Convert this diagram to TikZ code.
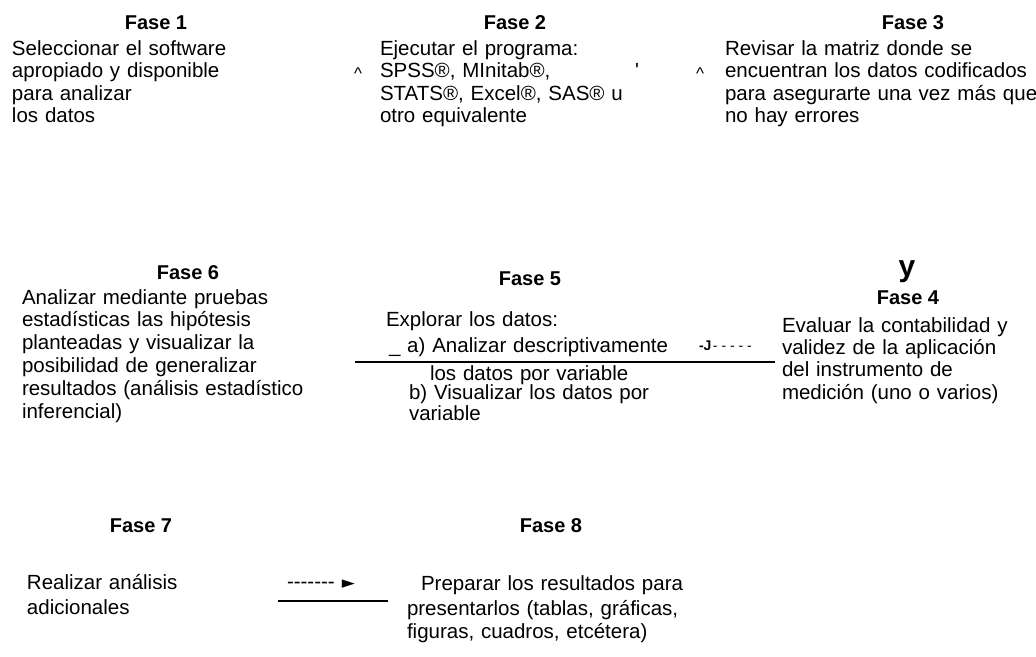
\documentclass[tikz,border=0pt]{standalone}
\usepackage{fontspec}
\setmainfont{Liberation Sans}
\newfontfamily\symfont{DejaVu Sans}
\begin{document}
\begin{tikzpicture}[x=1pt,y=-1pt,
  every node/.style={inner sep=0pt, outer sep=0pt},
  titulo/.style={font=\fontsize{20}{22}\selectfont\bfseries, anchor=base},
  cuerpo/.style={font=\fontsize{20.5}{22.5}\selectfont, anchor=base west, align=left, text width=380pt},
  marca/.style={font=\fontsize{17}{17}\selectfont, anchor=base},
  raya/.style={line width=1.6pt}
]
\useasboundingbox[fill=white] (0,0) rectangle (1036,656);

% ---- top row
\node[titulo] (t1) at (156,29) {Fase 1};
\node[cuerpo] (b1) at (12,55) {Seleccionar el software\\apropiado y disponible\\para analizar\\los datos};

\node[titulo] (t2) at (515,29) {Fase 2};
\node[cuerpo] (b2) at (380,55) {Ejecutar el programa:\\SPSS®, MInitab®,\\STATS®, Excel®, SAS® u\\otro equivalente};
\node[marca] (c2) at (358,79.5) {\textasciicircum};
\node[font=\fontsize{20.5}{22.5}\selectfont, anchor=base] (ap) at (637,77.5) {\textquotesingle};

\node[titulo] (t3) at (913,29) {Fase 3};
\node[cuerpo] (b3) at (725,55) {Revisar la matriz donde se\\encuentran los datos codificados\\para asegurarte una vez más que\\no hay errores};
\node[marca] (c3) at (700,79.5) {\textasciicircum};

% ---- middle row
\node[titulo] (t6) at (188,279) {Fase 6};
\node[cuerpo, font=\fontsize{20.5}{22.8}\selectfont] (b6) at (22,304) {Analizar mediante pruebas\\estadísticas las hipótesis\\planteadas y visualizar la\\posibilidad de generalizar\\resultados (análisis estadístico\\inferencial)};

\node[titulo] (t5) at (530,285) {Fase 5};
\node[cuerpo] (b5a) at (386,326) {Explorar los datos:};
\node[cuerpo] (b5b) at (389,352) {\_ a) Analizar descriptivamente};
\node[anchor=base west, font=\fontsize{14}{14}\selectfont] (d5) at (699,350)
  {{\bfseries -J}\kern1.5pt-\kern3.9pt-\kern3.9pt-\kern3.9pt-\kern3.9pt-};
\coordinate (l5a) at (355,362);
\coordinate (l5b) at (775,362);
\draw[raya] (l5a) -- (l5b);
\node[cuerpo] (b5c) at (430,380) {los datos por variable};
\node[cuerpo, font=\fontsize{20.5}{21}\selectfont] (b5d) at (409,399) {b) Visualizar los datos por\\variable};

\node[font=\fontsize{30}{30}\selectfont\bfseries, anchor=base] (yy) at (907,276) {y};
\node[titulo] (t4) at (908,304) {Fase 4};
\node[cuerpo, font=\fontsize{20.5}{22.4}\selectfont] (b4) at (782,332) {Evaluar la contabilidad y\\validez de la aplicación\\del instrumento de\\medición (uno o varios)};

% ---- bottom row
\node[titulo] (t7) at (141,532) {Fase 7};
\node[cuerpo, font=\fontsize{20.5}{25}\selectfont] (b7) at (27,589) {Realizar análisis\\adicionales};
\node[anchor=base west, font=\fontsize{20.5}{22.5}\selectfont] (d7) at (287,588)
  {-\kern0pt-\kern0pt-\kern0pt-\kern0pt-\kern0pt-\kern0pt-\kern7pt{\symfont\fontsize{17}{17}\selectfont ►}};
\coordinate (l7a) at (278,601);
\coordinate (l7b) at (388,601);
\draw[raya] (l7a) -- (l7b);

\node[titulo] (t8) at (551,532) {Fase 8};
\node[cuerpo] (b8a) at (421,590) {Preparar los resultados para};
\node[cuerpo, font=\fontsize{20.5}{23}\selectfont] (b8b) at (407,615) {presentarlos (tablas, gráficas,\\figuras, cuadros, etcétera)};
\end{tikzpicture}
\end{document}
